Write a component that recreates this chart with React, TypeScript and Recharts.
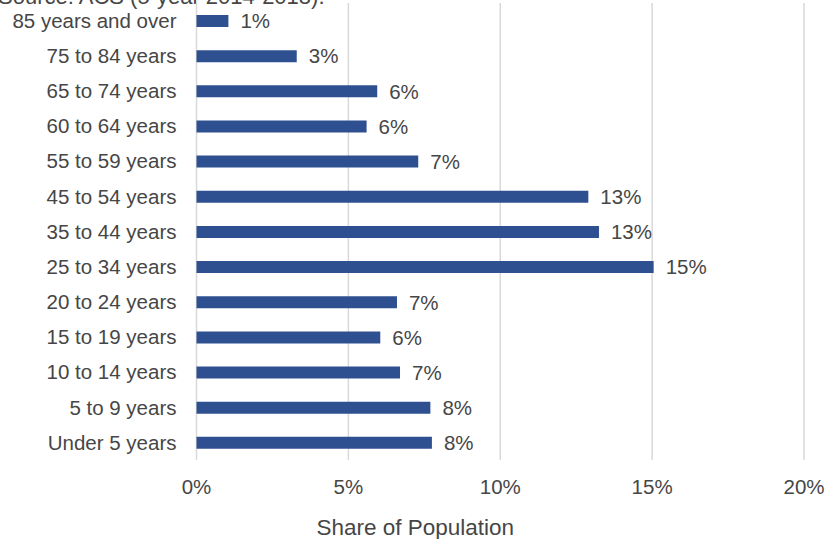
import React from "react";
import { BarChart, Bar, XAxis, YAxis, CartesianGrid, LabelList } from "recharts";

const ageGroups = [
  "85 years and over",
  "75 to 84 years",
  "65 to 74 years",
  "60 to 64 years",
  "55 to 59 years",
  "45 to 54 years",
  "35 to 44 years",
  "25 to 34 years",
  "20 to 24 years",
  "15 to 19 years",
  "10 to 14 years",
  "5 to 9 years",
  "Under 5 years",
];

const shares = [1.05, 3.3, 5.95, 5.6, 7.3, 12.9, 13.25, 15.05, 6.6, 6.05, 6.7, 7.7, 7.75];

const xTicks = [0, 5, 10, 15, 20];

const data = ageGroups.map((name, i) => ({ name, value: shares[i] }));

const FONT = "'Liberation Sans', Arial, sans-serif";
const TEXT = "#464646";

export default function App() {
  return (
    <div style={{ position: "absolute", left: 0, top: 0, width: 830, height: 539, overflow: "hidden", background: "#fff" }}>
      <svg width={830} height={539} style={{ position: "absolute", left: 0, top: 0, pointerEvents: "none" }}>
        <text x={-2} y={4} fontSize={22} fontFamily={FONT} fill={TEXT}>
          Source: ACS (5-year 2014-2018).
        </text>
      </svg>
      <BarChart
        width={830}
        height={539}
        data={data}
        layout="vertical"
        margin={{ top: 3, right: 26, bottom: 0, left: 0 }}
        barCategoryGap={0}
        style={{ fontFamily: FONT }}
      >
        <CartesianGrid horizontal={false} stroke="#d9d9d9" strokeWidth={1.5} />
        <XAxis
          type="number"
          domain={[0, 20]}
          ticks={xTicks}
          tickFormatter={(v: number) => `${v}%`}
          axisLine={false}
          tickLine={false}
          tickSize={0}
          tickMargin={19}
          height={79}
          tick={{ fill: TEXT, fontSize: 20.5, fontFamily: FONT }}
          label={{ value: "Share of Population", position: "insideBottom", dx: -85, offset: 4, fill: TEXT, fontSize: 22.5, fontFamily: FONT }}
        />
        <YAxis
          type="category"
          dataKey="name"
          width={196.5}
          axisLine={false}
          tickLine={false}
          tickSize={0}
          tickMargin={20}
          interval={0}
          tick={{ fill: TEXT, fontSize: 20.5, fontFamily: FONT }}
        />
        <Bar dataKey="value" fill="#2E5090" barSize={12} isAnimationActive={false}>
          <LabelList
            dataKey="value"
            position="right"
            offset={12}
            formatter={(v: number) => `${Math.round(v)}%`}
            fill={TEXT}
            fontSize={20.5}
            fontFamily={FONT}
          />
        </Bar>
      </BarChart>
    </div>
  );
}
